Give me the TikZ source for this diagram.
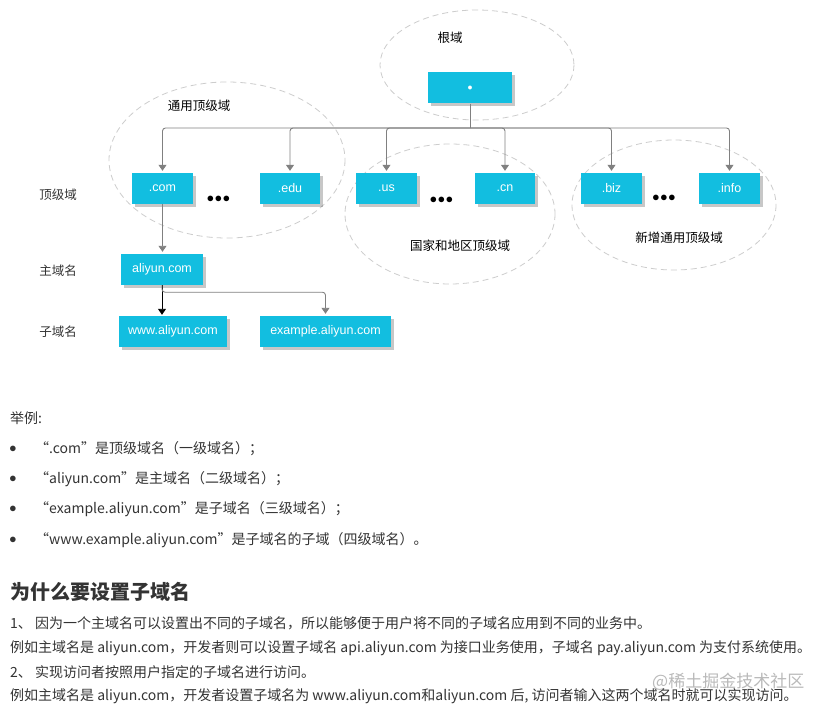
\documentclass[tikz,border=0pt]{standalone}
\usepackage{fontspec}
\setmainfont{Liberation Sans}
\newfontfamily\cjk{Noto Sans CJK SC}
\usetikzlibrary{shadows,arrows.meta}
\definecolor{boxc}{RGB}{18,190,224}
\definecolor{linec}{RGB}{128,128,128}
\definecolor{ellc}{RGB}{205,205,205}
\definecolor{txt}{RGB}{51,51,51}
\begin{document}
\begin{tikzpicture}[x=1pt,y=-1pt,
  dbox/.style={fill=boxc, draw=none, text=white, font=\fontsize{12.5}{14}\selectfont,
    minimum height=31pt, inner sep=0pt,
    drop shadow={shadow xshift=3pt, shadow yshift=-3pt, opacity=0.22, fill=black}},
  ell/.style={draw=ellc, dash pattern=on 6pt off 4pt, line width=0.8pt},
  conn/.style={draw=linec, line width=0.9pt, rounded corners=3pt},
  arr/.style={conn, -{Triangle[length=6pt,width=8pt]}, shorten >=2pt},
  dlab/.style={font=\cjk\fontsize{12.5}{14}\selectfont, text=black, inner sep=0pt},
  side/.style={font=\cjk\fontsize{12.5}{14}\selectfont, text=txt, inner sep=0pt},
  dots/.style={font=\fontsize{14}{14}\selectfont\bfseries, text=black, inner sep=0pt},
  body/.style={font=\cjk\fontsize{14}{16}\selectfont, text=txt, anchor=west, inner sep=0pt},
  bul/.style={font=\fontsize{14}{14}\selectfont, text=txt, inner sep=0pt}
]
\useasboundingbox (0,0) rectangle (824,714);
\fill[white] (0,0) rectangle (824,714);

% ellipses
\draw[ell] (477,65) ellipse [x radius=97, y radius=55];
\draw[ell] (227,160) ellipse [x radius=118, y radius=78];
\draw[ell] (450,214) ellipse [x radius=105, y radius=70];
\draw[ell] (674,205) ellipse [x radius=102, y radius=65];

% group labels
\node[dlab] (lroot) at (450,38) {根域};
\node[dlab] (lgen) at (199,106) {通用顶级域};
\node[dlab] (lcc) at (460,246) {国家和地区顶级域};
\node[dlab] (lnew) at (679,238) {新增通用顶级域};

% level labels
\node[side] (ltld) at (58,195) {顶级域};
\node[side] (lmain) at (58,271) {主域名};
\node[side] (lsub) at (58,332) {子域名};

% boxes
\node[dbox, minimum width=84pt] (root) at (470,88) {\fontsize{10}{10}\selectfont$\bullet$};
\node[dbox, minimum width=61pt] (com) at (162.5,188.5) {.com};
\node[dbox, minimum width=60pt] (edu) at (290,188.5) {.edu\hspace{14pt}};
\node[dbox, minimum width=61pt] (us) at (386.5,188.5) {.us\hspace{12pt}};
\node[dbox, minimum width=60pt] (cn) at (505,188.5) {.cn\hspace{28pt}};
\node[dbox, minimum width=61pt] (biz) at (611.5,188.5) {.biz\hspace{24pt}};
\node[dbox, minimum width=61pt] (info) at (729.5,188.5) {.info\hspace{18pt}};
\node[dbox, minimum width=82pt] (aliyun) at (162,269.5) {aliyun.com\hspace{8pt}};
\node[dbox, minimum width=108pt] (www) at (173,331.5) {www.aliyun.com\hspace{4pt}};
\node[dbox, minimum width=131pt] (example) at (325.5,331.5) {example.aliyun.com};

% dots
\node[dots] (d1) at (218.5,199) {$\bullet\!\bullet\!\bullet$};
\node[dots] (d2) at (441.5,200) {$\bullet\!\bullet\!\bullet$};
\node[dots] (d3) at (664,198) {$\bullet\!\bullet\!\bullet$};

% connectors
\coordinate (bar) at (470,128);
\draw[conn] (root.south) -- (bar);
\draw[arr] (bar) -| (com.north);
\draw[arr] (bar) -| (edu.north);
\draw[arr] (bar) -| (us.north);
\draw[arr] (bar) -| (cn.north);
\draw[arr] (bar) -| (biz.north);
\draw[arr] (bar) -| (info.north);
\draw[arr] (com.south) -- (com.south |- aliyun.north);
\draw[conn, draw=black, -{Triangle[length=6pt,width=8pt]}, shorten >=1pt] (aliyun.south) -- (aliyun.south |- www.north);
\draw[arr] (aliyun.south) -- ++(0,7) -| (example.north);

% text below
\node[body] (ex) at (10,418) {举例:};
\node[bul] (b1) at (13,449) {$\bullet$};
\node[bul] (b2) at (13,479) {$\bullet$};
\node[bul] (b3) at (13,509) {$\bullet$};
\node[bul] (b4) at (13,540) {$\bullet$};
\node[body] (t1) at (35,449) {“.com”是顶级域名（一级域名）；};
\node[body] (t2) at (35,479) {“aliyun.com”是主域名（二级域名）；};
\node[body] (t3) at (35,509) {“example.aliyun.com”是子域名（三级域名）；};
\node[body] (t4) at (35,540) {“www.example.aliyun.com”是子域名的子域（四级域名）。};

\node[body, font=\cjk\fontsize{20}{22}\selectfont\bfseries] (head) at (10,592) {为什么要设置子域名};
\node[body] (p1) at (10,623) {1、 因为一个主域名可以设置出不同的子域名，所以能够便于用户将不同的子域名应用到不同的业务中。};
\node[body] (p2) at (10,648) {例如主域名是 aliyun.com，开发者则可以设置子域名 api.aliyun.com 为接口业务使用，子域名 pay.aliyun.com 为支付系统使用。};
\node[body] (p3) at (10,672) {2、 实现访问者按照用户指定的子域名进行访问。};
\node[body] (p4) at (10,696) {例如主域名是 aliyun.com，开发者设置子域名为 www.aliyun.com和aliyun.com 后, 访问者输入这两个域名时就可以实现访问。};

\node[body, font=\cjk\fontsize{17}{19}\selectfont, text=black!30, opacity=0.9] (wm) at (652,682) {@稀土掘金技术社区};
\end{tikzpicture}
\end{document}
